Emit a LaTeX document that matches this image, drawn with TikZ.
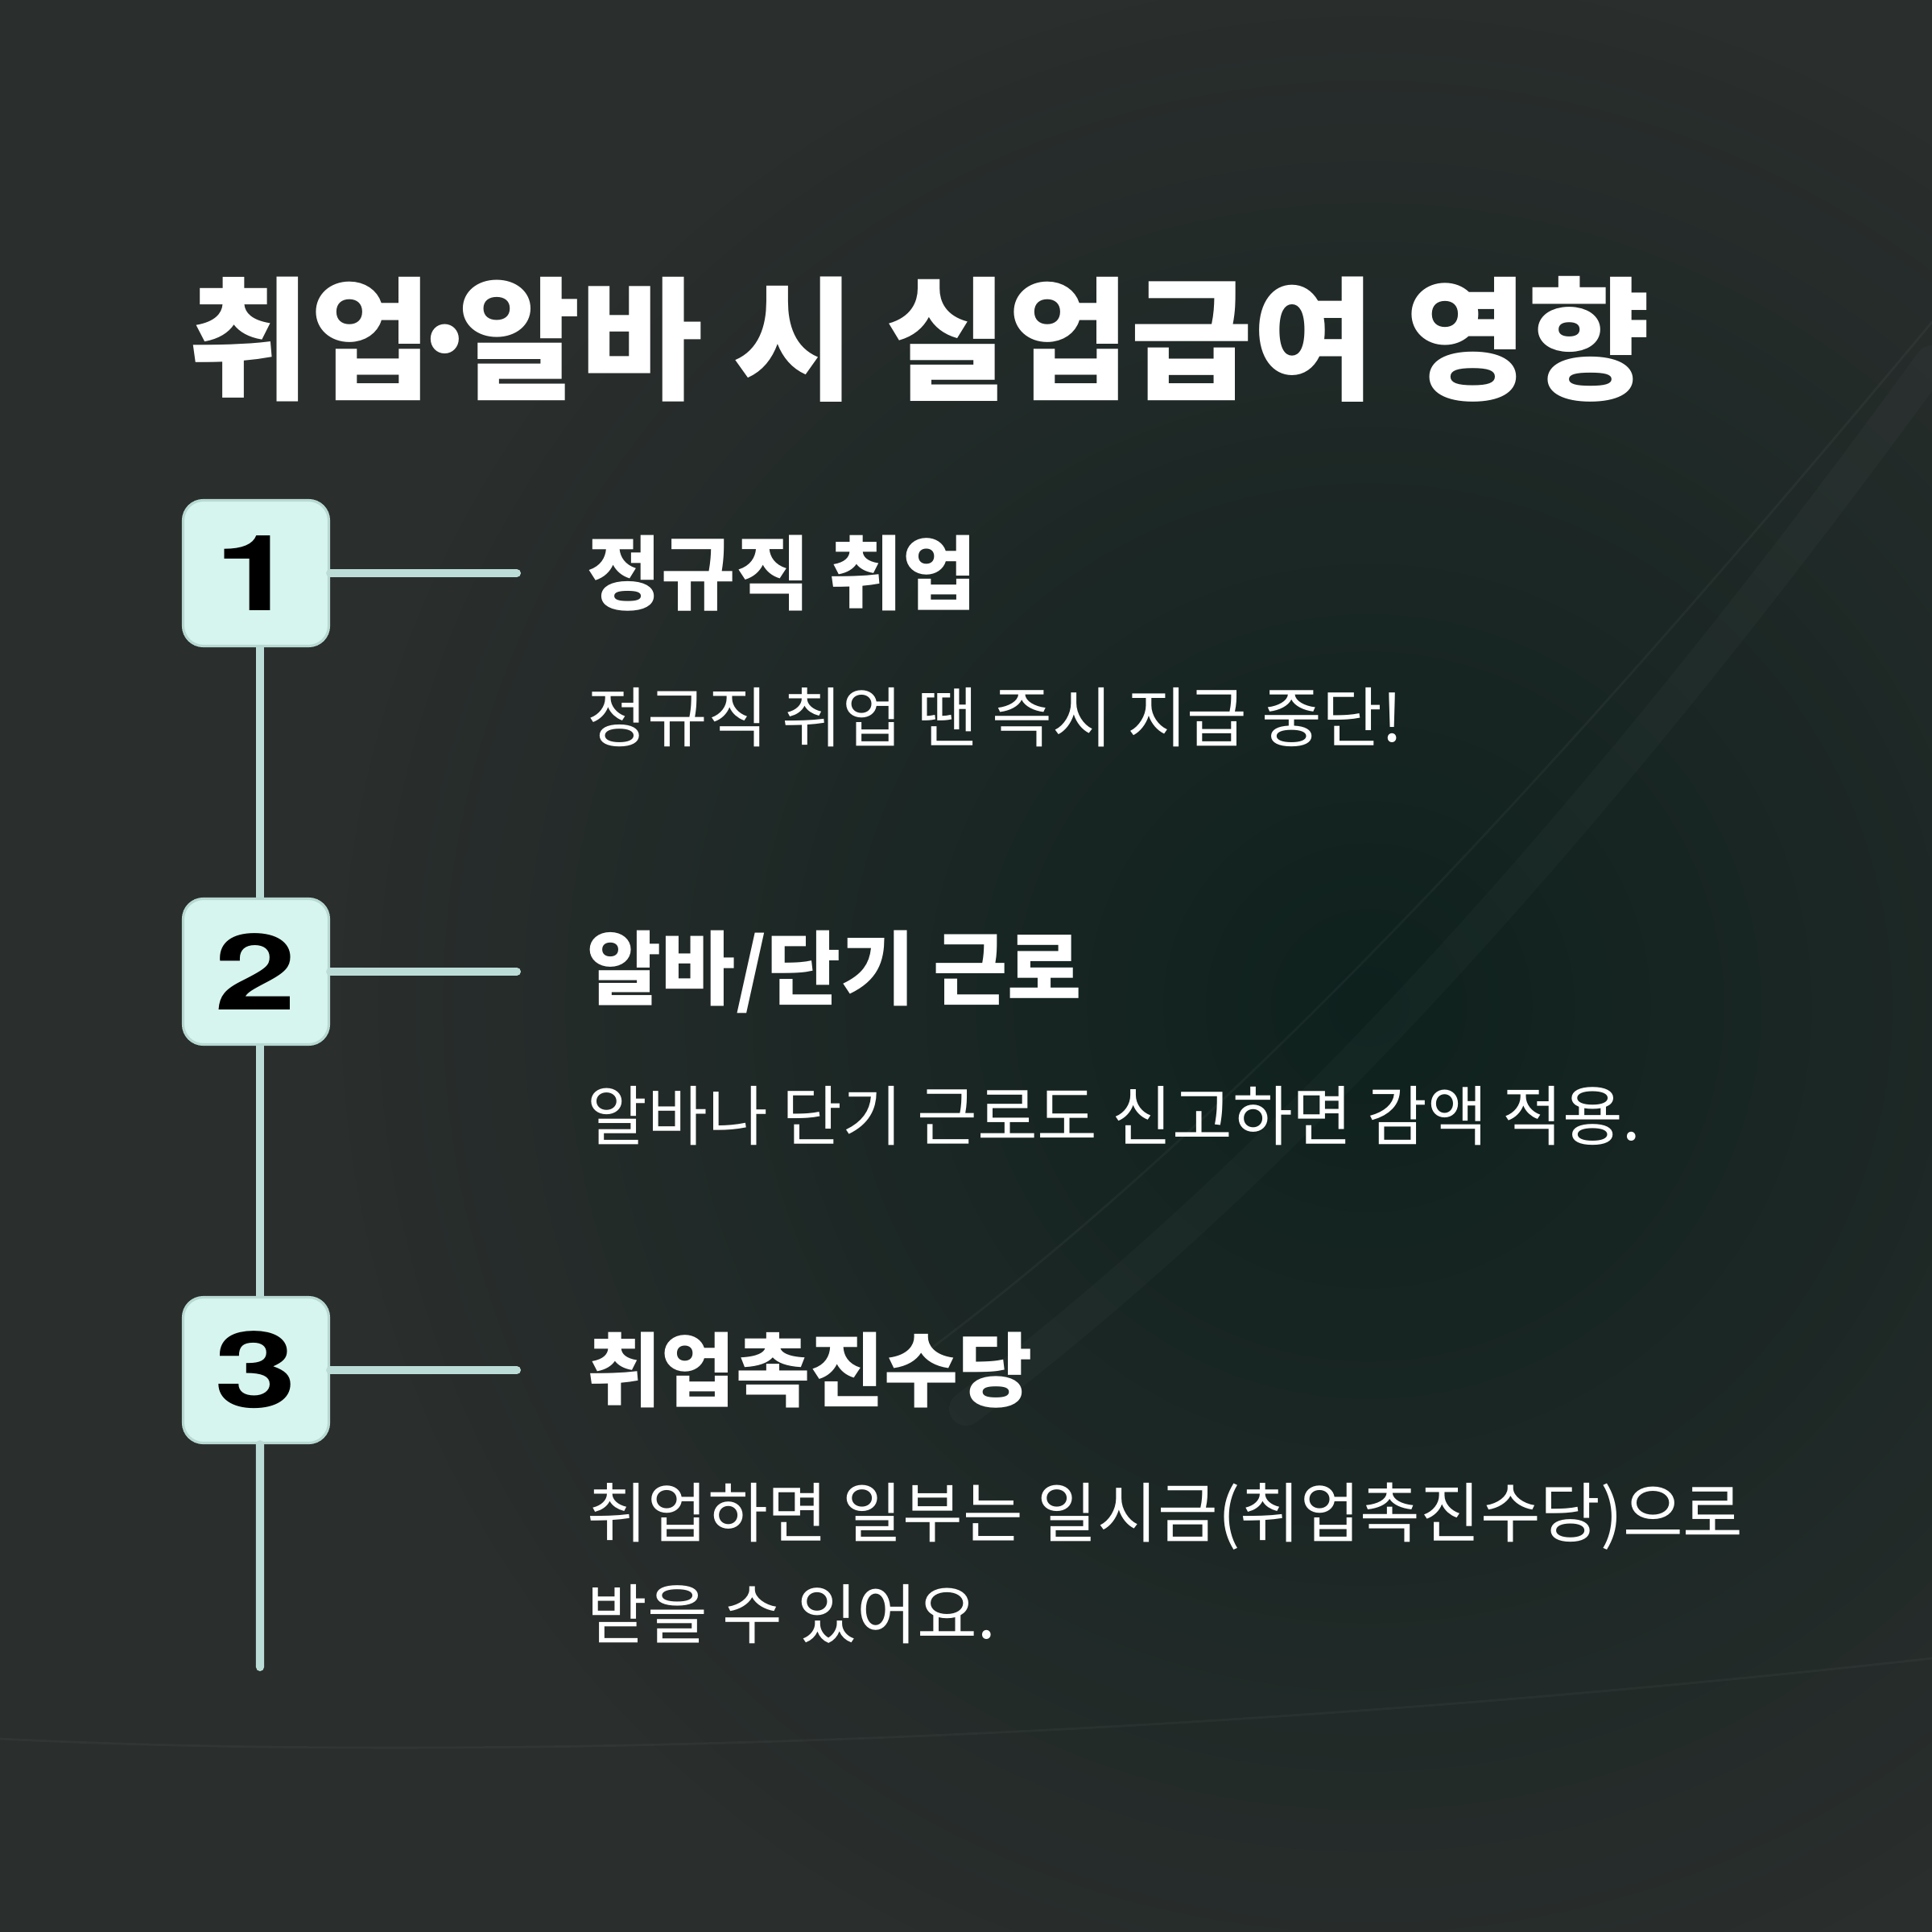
\documentclass[tikz,border=0pt]{standalone}
\usepackage{fontspec}
\setmainfont{Noto Sans CJK KR}
\newfontfamily\digitfont{TeX Gyre Heros}
\usepackage{tikz}
\usetikzlibrary{positioning,calc}

\definecolor{bgbase}{HTML}{2A2E2D}
\definecolor{bgdeep}{HTML}{0E211D}
\definecolor{mintfill}{HTML}{D6F5EE}
\definecolor{mintedge}{HTML}{B7D9D2}
\definecolor{mintline}{HTML}{BCDDD7}

\tikzset{
    numbox/.style={draw=mintedge, line width=0.9pt, fill=mintfill, rounded corners=0.25cm,
        minimum width=1.81cm, minimum height=1.81cm, inner sep=0pt,
        font=\digitfont\fontsize{37.3}{37.3}\selectfont\bfseries},
    link/.style={draw=mintline, line width=2.85pt, line cap=round},
    headtxt/.style={anchor=west, text=white, inner sep=0pt,
        font=\fontsize{28.5}{28.5}\selectfont\bfseries},
    bodytxt/.style={anchor=west, text=white, inner sep=0pt, align=left,
        font=\fontsize{23.1}{35.6}\selectfont},
    streak/.style={white, line cap=round},
}

\begin{document}
\begin{tikzpicture}
    \useasboundingbox (0,0) rectangle (24,-24);

    % 배경
    \fill[bgbase] (0,0) rectangle (24,-24);
    \begin{scope}
        \clip (0,0) rectangle (24,-24);
        \shade[inner color=bgdeep, outer color=bgbase] (17,-12.5) circle (13);
        \draw[streak, opacity=0.025, line width=12pt] (12,-17.5) .. controls (16,-14.5) and (20,-10) .. (24,-4.5);
        \draw[streak, opacity=0.04, line width=0.8pt] (11.5,-16.8) .. controls (15.5,-13.8) and (19.5,-9.4) .. (24,-4);
        \draw[streak, opacity=0.035, line width=0.8pt] (0,-21.6) .. controls (6,-21.9) and (15,-21.6) .. (24,-20.6);
    \end{scope}

    % 제목
    \node[anchor=west, text=white, inner sep=0pt, font=\fontsize{47}{47}\selectfont\bfseries]
        (title) at (2.33,-4.21) {취업\kern-0.21em·\kern-0.21em알바 시 실업급여 영향};

    % 번호 상자
    \node[numbox] (box1) at (3.18,-7.12) {\scalebox{1.4}[1]{1}};
    \node[numbox] (box2) at (3.18,-12.07) {\scalebox{1.4}[1]{2}};
    \node[numbox] (box3) at (3.18,-17.02) {\scalebox{1.4}[1]{3}};

    \coordinate (tip1) at (6.42,-7.12);
    \coordinate (tip2) at (6.42,-12.07);
    \coordinate (tip3) at (6.42,-17.02);
    \coordinate (tail) at (3.23,-20.71);

    % 연결선
    \draw[link] (box1.east) -- (tip1);
    \draw[link] (box2.east) -- (tip2);
    \draw[link] (box3.east) -- (tip3);
    \draw[link, line cap=butt] ([xshift=0.05cm]box1.south) -- ([xshift=0.05cm]box2.north);
    \draw[link, line cap=butt] ([xshift=0.05cm]box2.south) -- ([xshift=0.05cm]box3.north);
    \draw[link] ([xshift=0.05cm]box3.south) -- (tail);

    % 항목
    \node[headtxt] (head1) at (7.29,-7.12) {정규직 취업};
    \node[bodytxt] (body1) at (7.29,-8.91) {정규직 취업 땐 즉시 지급 중단!};

    \node[headtxt] (head2) at (7.29,-12.07) {알바/단기 근로};
    \node[bodytxt] (body2) at (7.29,-13.86) {알바나 단기 근로도 신고하면 감액 적용.};

    \node[headtxt] (head3) at (7.29,-17.02) {취업촉진수당};
    \node[bodytxt] (body3) at (7.29,-19.42) {취업하면 일부는 일시금(취업촉진수당)으로\\받을 수 있어요.};
\end{tikzpicture}
\end{document}
